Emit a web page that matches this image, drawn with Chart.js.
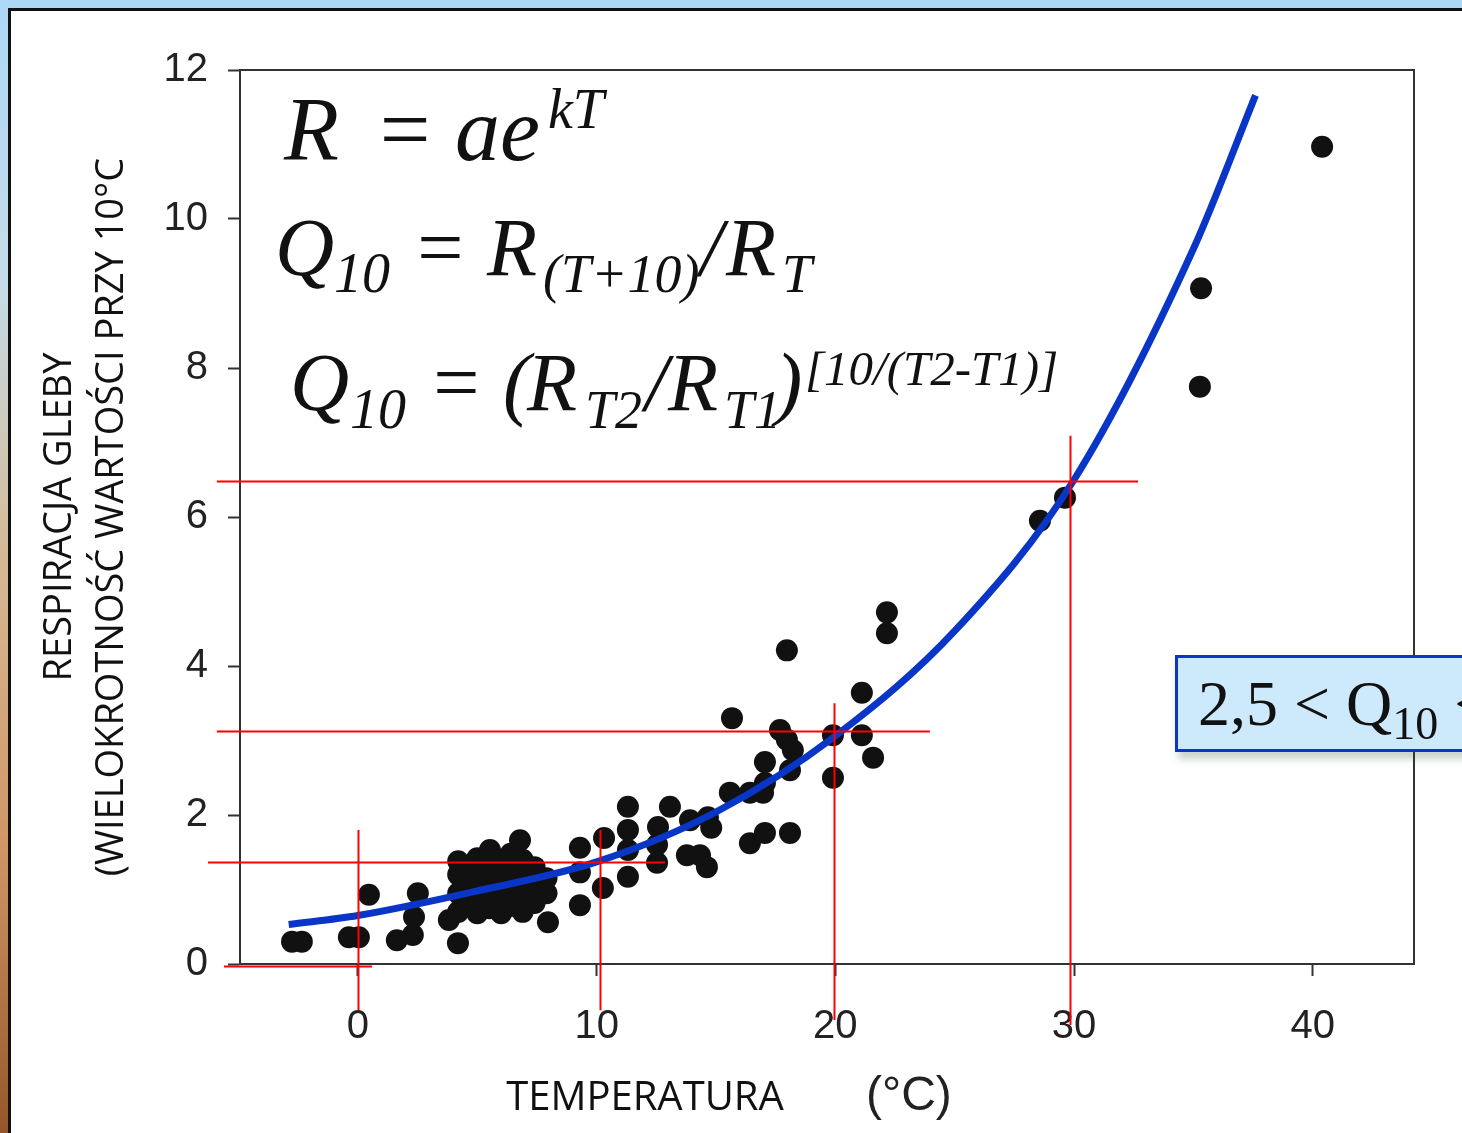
<!DOCTYPE html>
<html lang="pl">
<head>
<meta charset="utf-8">
<title>Respiracja gleby a temperatura</title>
<script src="https://cdn.jsdelivr.net/npm/chart.js@4.4.1/dist/chart.umd.min.js"></script>
<style>
    html, body { margin:0; padding:0; }
    body { width:1462px; height:1133px; position:relative; overflow:hidden; background:#fff; }
    .band-top { position:absolute; left:0; top:0; width:1462px; height:8px; background:#acd8f6; }
    .band-left { position:absolute; left:0; top:0; width:8px; height:1133px;
        background:linear-gradient(to bottom, #acd8f6 0%, #c6dbe8 25%, #d5b892 50%, #d09566 75%, #96552a 100%); }
    .line-top { position:absolute; left:8px; top:8px; width:1454px; height:3px; background:#111; }
    .line-left { position:absolute; left:8px; top:8px; width:3px; height:1125px; background:#111; }
    #chart { position:absolute; left:0; top:0; }
    .qbox { position:absolute; left:1175px; top:655px; width:330px; height:91px;
        border:3px solid #0a36c8; background:#cdeafc; box-shadow:3px 7px 7px rgba(40,90,40,0.25);
        font:64px "Liberation Serif", "Times New Roman", serif; line-height:91px; color:#111;
        padding-left:20px; white-space:nowrap; }
    .qbox .sub { font-size:46px; position:relative; top:14px; }
</style>
</head>
<body>

<div class="band-top"></div>
<div class="band-left"></div>
<div class="line-top"></div>
<div class="line-left"></div>

<canvas id="chart" width="1462" height="1133"></canvas>

<div class="qbox">2,5 &lt; Q<span class="sub">10</span> &lt;</div>

<script>
/* =========================================
   Respiracja gleby vs temperatura
========================================= */

// ---------------- Data ----------------

const xTicks = [0, 10, 20, 30, 40];
const yTicks = [0, 2, 4, 6, 8, 10, 12];

// measured points (temperature °C, respiration multiple)
const scatterT = [
    -2.76, -2.35, -0.38, 0.04, 0.46, 1.63, 2.30, 2.35, 2.51, 3.81, 4.19,
    4.2, 4.2, 4.2, 4.2, 4.6, 4.6, 4.6, 5.0, 5.0, 5.0, 5.0,
    5.5, 5.5, 5.5, 5.53, 6.0, 6.0, 6.0, 6.0, 6.4, 6.4, 6.4, 6.4, 6.79,
    6.9, 6.9, 6.9, 6.9, 7.4, 7.4, 7.4, 7.9, 7.9, 7.96,
    9.30, 9.30, 9.30, 10.26, 10.31, 11.31, 11.31, 11.31, 11.31,
    12.53, 12.53, 12.57, 13.07, 13.78, 14.33, 14.62, 13.91, 14.66, 14.8,
    15.58, 15.67, 16.42, 17.05, 16.42, 16.97, 17.05, 17.05,
    17.97, 17.68, 17.97, 18.22, 18.10, 18.10,
    19.90, 19.90, 21.11, 21.11, 21.58, 22.16, 22.16,
    28.57, 29.62, 35.27, 35.32, 40.39
];
const scatterR = [
    0.30, 0.30, 0.36, 0.36, 0.93, 0.32, 0.39, 0.63, 0.95, 0.59, 0.28,
    0.70, 0.95, 1.20, 1.38, 0.80, 1.05, 1.30, 0.68, 0.90, 1.15, 1.42,
    0.75, 1.00, 1.25, 1.53, 0.68, 0.88, 1.12, 1.40, 0.78, 1.00, 1.28, 1.48, 1.66,
    0.70, 0.92, 1.15, 1.40, 0.82, 1.05, 1.30, 0.95, 1.15, 0.56,
    0.79, 1.23, 1.56, 1.02, 1.69, 1.17, 1.53, 1.80, 2.11,
    1.36, 1.60, 1.84, 2.11, 1.46, 1.46, 1.30, 1.93, 1.97, 1.83,
    2.30, 3.30, 1.62, 1.76, 2.30, 2.30, 2.43, 2.71,
    4.21, 3.14, 3.01, 2.87, 2.60, 1.76,
    3.07, 2.50, 3.64, 3.07, 2.77, 4.72, 4.44,
    5.95, 6.26, 7.75, 9.07, 10.97
];

// fitted curve R = a*e^(kT)
const curveT = [-2.9, 0, 5, 10, 15, 20, 25, 30, 35, 37.6];
const curveR = [0.53, 0.65, 0.98, 1.37, 2.04, 3.06, 4.47, 6.5, 9.6, 11.66];

// red guide lines (data units)
const hLineR    = [6.48, 3.13, 1.37, -0.03];
const hLineFrom = [-5.91, -5.91, -6.28, -5.61];
const hLineTo   = [32.68, 23.96, 12.86, 0.59];

const vLineT      = [0, 10.14, 19.94, 29.83];
const vLineTop    = [1.80, 1.80, 3.50, 7.09];
const vLineBottom = [-0.62, -0.62, -0.75, -0.82];

// ---------------- Helpers ----------------

const serif = '"Liberation Serif", "Times New Roman", serif';

function drawRuns(ctx, runs) {
    runs.forEach(r => {
        ctx.font = "italic " + r[2] + "px " + serif;
        ctx.fillText(r[0], r[1], r[3]);
    });
}

// ---------------- Plugin ----------------

const notesPlugin = {

    id: "notes",

    beforeDatasetsDraw(chart) {
        const { ctx, chartArea: a } = chart;
        ctx.save();
        ctx.strokeStyle = "#333";
        ctx.lineWidth = 2;
        ctx.beginPath();
        ctx.moveTo(a.left, a.top);
        ctx.lineTo(a.right, a.top);
        ctx.lineTo(a.right, a.bottom);
        ctx.stroke();
        ctx.restore();
    },

    afterDatasetsDraw(chart) {
        const { ctx, scales: { x, y } } = chart;
        ctx.save();
        ctx.strokeStyle = "#ff0000";
        ctx.lineWidth = 2;
        ctx.beginPath();
        hLineR.forEach((r, i) => {
            const py = Math.round(y.getPixelForValue(r)) + 0.5;
            ctx.moveTo(x.getPixelForValue(hLineFrom[i]), py);
            ctx.lineTo(x.getPixelForValue(hLineTo[i]), py);
        });
        vLineT.forEach((t, i) => {
            const px = Math.round(x.getPixelForValue(t)) + 0.5;
            ctx.moveTo(px, y.getPixelForValue(vLineTop[i]));
            ctx.lineTo(px, y.getPixelForValue(vLineBottom[i]));
        });
        ctx.stroke();
        ctx.restore();
    },

    afterDraw(chart) {
        const ctx = chart.ctx;
        ctx.save();
        ctx.fillStyle = "#111";
        ctx.textBaseline = "alphabetic";
        ctx.textAlign = "left";

        // formulas
        drawRuns(ctx, [
            ["R", 284, 90, 160], ["=", 374, 90, 160], ["ae", 455, 90, 160], ["kT", 548, 56, 128]
        ]);
        drawRuns(ctx, [
            ["Q", 275, 82, 275], ["10", 334, 56, 292], ["=", 412, 82, 275],
            ["R", 487, 82, 275], ["(T+10)", 543, 54, 292], ["/", 700, 82, 275],
            ["R", 726, 82, 275], ["T", 782, 54, 292]
        ]);
        drawRuns(ctx, [
            ["Q", 290, 82, 410], ["10", 350, 56, 428], ["=", 428, 82, 410],
            ["(", 503, 82, 410], ["R", 527, 82, 410], ["T2", 585, 54, 428],
            ["/", 645, 82, 410], ["R", 668, 82, 410], ["T1", 724, 54, 428],
            [")", 775, 82, 410], ["[10/(T2-T1)]", 805, 49, 385]
        ]);

        // x axis title
        ctx.font = '40px "Open Sans", sans-serif';
        ctx.textAlign = "center";
        ctx.fillText("TEMPERATURA", 645, 1110);
        ctx.font = '48px "Liberation Sans", Arial, sans-serif';
        ctx.textAlign = "left";
        ctx.fillStyle = "#222";
        ctx.fillText("(°C)", 866, 1110);
        ctx.restore();
    }
};

// ---------------- Chart ----------------

const tickFont = { family: '"Liberation Sans", Arial, sans-serif', size: 40 };

new Chart(document.getElementById("chart"), {

    type: "scatter",

    data: {
        datasets: [
            {
                label: "R = a e^(kT)",
                data: curveT.map((t, i) => ({ x: t, y: curveR[i] })),
                showLine: true,
                borderColor: "#0a36c8",
                borderWidth: 7,
                pointRadius: 0,
                cubicInterpolationMode: "monotone",
                order: 0
            },
            {
                label: "Pomiary",
                data: scatterT.map((t, i) => ({ x: t, y: scatterR[i] })),
                backgroundColor: "#111",
                borderWidth: 0,
                pointRadius: 11,
                order: 1
            }
        ]
    },

    options: {
        responsive: false,
        animation: false,
        layout: { padding: { left: 34, top: 70, right: 48, bottom: 69 } },
        plugins: {
            legend: { display: false },
            tooltip: { enabled: false }
        },
        scales: {
            x: {
                type: "linear",
                min: -4.94,
                max: 44.24,
                afterBuildTicks: s => { s.ticks = xTicks.map(v => ({ value: v })); },
                afterFit: s => { s.height = 100; },
                ticks: { font: tickFont, color: "#222", padding: 27, maxRotation: 0 },
                grid: { drawOnChartArea: false, drawTicks: true, tickLength: 12, tickColor: "#333", tickWidth: 2 },
                border: { display: true, color: "#333", width: 2 }
            },
            y: {
                min: 0,
                max: 12,
                afterBuildTicks: s => { s.ticks = yTicks.map(v => ({ value: v })); },
                afterFit: s => { s.width = 206; },
                ticks: { font: tickFont, color: "#222", padding: 20 },
                grid: { drawOnChartArea: false, drawTicks: true, tickLength: 12, tickColor: "#333", tickWidth: 2 },
                border: { display: true, color: "#333", width: 2 },
                title: {
                    display: true,
                    text: ["RESPIRACJA GLEBY", "(WIELOKROTNOŚĆ WARTOŚCI PRZY 10°C"],
                    color: "#111",
                    font: { family: '"Open Sans", sans-serif', size: 38, lineHeight: 1.37 },
                    padding: 0
                }
            }
        }
    },

    plugins: [notesPlugin]

});
</script>
</body>
</html>
